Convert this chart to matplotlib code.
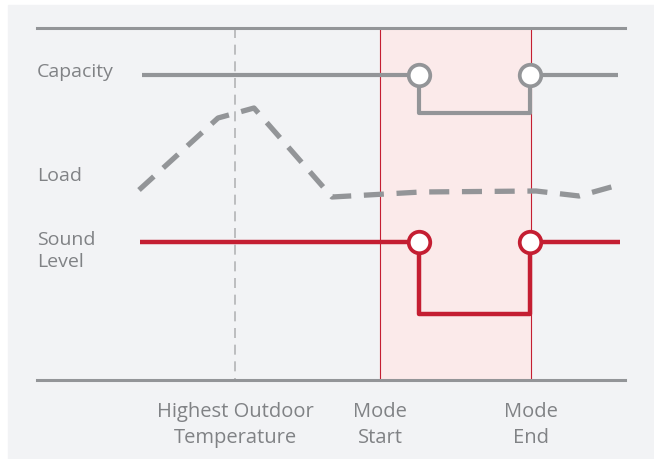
import numpy as np
import matplotlib.pyplot as plt

# Chart space: x runs left->right, y runs top->bottom (same units as the 654x459 canvas)
axis_left, axis_right = 37, 625
axis_top, axis_bottom = 28, 380

# Event positions along the time axis
x_highest_temp = 235
x_mode_start = 380
x_mode_end = 531

# Capacity line (solid gray, steps down during the mode)
capacity_x = [142, 419, 419, 530, 530, 618]
capacity_y = [75, 75, 113, 113, 75, 75]
capacity_marks_x = [419, 530]
capacity_marks_y = [75, 75]

# Load curve (dashed gray)
load_x = [139, 218, 254, 332, 421, 536, 579, 622]
load_y = [190, 118, 108, 197, 192, 191, 196, 184]

# Sound level (solid red, steps down during the mode)
sound_x = [140, 419, 419, 530, 530, 620]
sound_y = [242, 242, 314, 314, 242, 242]
sound_marks_x = [419, 530]
sound_marks_y = [242, 242]

row_labels = ['Capacity', 'Load', 'Sound\nLevel']
row_label_y = [72, 176, 251]
tick_labels = ['Highest Outdoor\nTemperature', 'Mode\nStart', 'Mode\nEnd']
tick_x = [x_highest_temp, x_mode_start, x_mode_end]

gray = '#939598'
red = '#c41e32'
text_gray = '#808285'
panel = '#f2f3f5'
pink = '#fbeaea'

plt.rcParams['font.family'] = ['Open Sans', 'DejaVu Sans']

fig = plt.figure(figsize=(6.54, 4.59), dpi=100, facecolor='white')
ax = fig.add_axes([0, 0, 1, 1])
ax.set_xlim(0, 654)
ax.set_ylim(459, 0)
ax.axis('off')

# Panel background
ax.add_patch(plt.Rectangle((8, 5), 654 - 8, 459 - 5, color=panel, zorder=0))

# Mode window
ax.add_patch(plt.Rectangle((x_mode_start, axis_top), x_mode_end - x_mode_start,
                           axis_bottom - axis_top, color=pink, zorder=1))
ax.plot([x_mode_start, x_mode_start], [axis_top, axis_bottom], color=red, lw=0.8, zorder=2)
ax.plot([x_mode_end, x_mode_end], [axis_top, axis_bottom], color=red, lw=0.8, zorder=2)

# Highest temperature marker
ax.plot([x_highest_temp, x_highest_temp], [axis_top, axis_bottom], color='#b3b4b6',
        lw=1.2, dashes=(6, 4), zorder=2)

# Top and bottom rules
ax.plot([axis_left, axis_right], [axis_top, axis_top], color=gray, lw=2.2, zorder=3)
ax.plot([axis_left, axis_right], [axis_bottom, axis_bottom], color=gray, lw=2.2, zorder=3)

# Capacity
ax.plot(capacity_x, capacity_y, color=gray, lw=3, solid_capstyle='butt', zorder=4)
ax.plot(capacity_marks_x, capacity_marks_y, 'o', ms=15.5, mfc='white', mec=gray, mew=2.7, zorder=5)

# Load
ax.plot(load_x, load_y, color=gray, lw=3.8, dashes=(3.8, 2.4), zorder=4)

# Sound level
ax.plot(sound_x, sound_y, color=red, lw=3.2, solid_capstyle='butt', zorder=4)
ax.plot(sound_marks_x, sound_marks_y, 'o', ms=15.5, mfc='white', mec=red, mew=2.7, zorder=5)

for lab, y in zip(row_labels, row_label_y):
    ax.text(axis_left, y, lab, color=text_gray, fontsize=14, ha='left', va='center',
            linespacing=1.3, zorder=6)

for lab, x in zip(tick_labels, tick_x):
    ax.text(x, 425, lab, color=text_gray, fontsize=14.5, ha='center', va='center',
            linespacing=1.4, zorder=6)

fig.savefig('out.png', dpi=100, facecolor=fig.get_facecolor())
